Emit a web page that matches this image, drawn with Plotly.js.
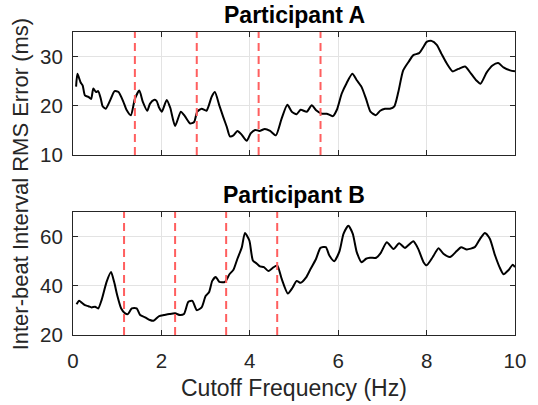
<!DOCTYPE html>
<html>
<head>
<meta charset="utf-8">
<script src="https://cdn.plot.ly/plotly-3.0.1.min.js"></script>
<style>html,body{margin:0;padding:0;background:#fff;}#chart{width:538px;height:405px;}</style>
</head>
<body>
<div id="chart"></div>
<script>
// Participant A: cutoff frequency (Hz) vs RMS error (ms)
const freqA = [0.07,0.1,0.17,0.22,0.27,0.35,0.41,0.46,0.52,0.57,0.63,0.67,0.74,0.84,0.94,1.03,1.14,1.21,1.31,1.40,1.50,1.58,1.68,1.74,1.83,1.89,1.95,2.01,2.12,2.2,2.31,2.44,2.53,2.65,2.74,2.81,2.91,3.02,3.14,3.21,3.31,3.4,3.48,3.55,3.63,3.72,3.81,3.93,4.02,4.12,4.22,4.34,4.46,4.59,4.72,4.85,4.95,5.06,5.15,5.29,5.4,5.5,5.63,5.74,5.88,5.97,6.08,6.19,6.32,6.42,6.53,6.63,6.73,6.85,6.95,7.06,7.17,7.27,7.36,7.47,7.59,7.7,7.83,7.93,8.0,8.11,8.23,8.34,8.45,8.59,8.72,8.87,9.0,9.12,9.22,9.36,9.49,9.62,9.74,9.89,10.0];
const errA  = [23.9,26.5,24.8,24.1,22.1,21.8,21.4,23.5,22.8,23.0,21.4,19.9,19.4,21.1,23.0,22.8,20.8,19.2,18.1,21.4,23.1,20.8,19.0,20.4,21.2,21.0,19.6,18.8,21.2,19.6,15.9,18.8,17.9,16.4,16.7,18.8,19.4,19.0,21.9,22.8,20.1,17.7,15.7,13.8,14.0,14.9,14.2,12.9,14.4,15.1,14.9,15.3,14.9,14.0,17.4,20.2,18.8,18.3,19.2,18.8,20.1,19.1,18.4,18.4,17.9,19.2,22.5,24.6,26.5,25.2,23.8,21.4,18.8,18.1,19.0,19.4,19.4,19.9,22.8,27.2,28.9,30.3,30.7,32.0,33.0,33.2,32.4,30.5,28.7,27.0,27.5,28.0,26.6,25.2,24.5,26.8,28.2,28.7,27.8,27.2,27.0];
// Participant B
const freqB = [0.08,0.14,0.2,0.27,0.35,0.42,0.5,0.57,0.65,0.76,0.86,0.93,1.0,1.09,1.18,1.24,1.33,1.44,1.52,1.63,1.74,1.82,1.95,2.06,2.18,2.31,2.42,2.51,2.61,2.7,2.8,2.91,3.0,3.08,3.15,3.23,3.31,3.44,3.54,3.63,3.72,3.82,3.89,3.99,4.07,4.16,4.23,4.32,4.42,4.52,4.62,4.72,4.86,4.97,5.06,5.15,5.27,5.36,5.5,5.6,5.72,5.8,5.91,6.03,6.12,6.23,6.33,6.42,6.53,6.63,6.72,6.86,6.96,7.1,7.25,7.38,7.51,7.7,7.81,7.93,8.0,8.14,8.27,8.38,8.53,8.68,8.78,8.91,9.09,9.21,9.32,9.43,9.55,9.65,9.74,9.85,9.95,10.0];
const errB  = [32.5,33.9,33.1,32.1,31.7,31.2,31.5,30.8,34.4,41.6,45.6,41.6,36.2,30.8,28.8,28.5,30.8,30.8,28.1,27.2,26.1,25.8,27.7,28.1,28.5,28.8,28.1,28.5,33.5,33.9,30.1,31.2,35.8,37.5,42.0,43.6,41.6,41.6,44.7,46.5,51.0,55.7,61.5,58.4,50.3,49.0,47.9,47.6,46.0,47.3,48.3,42.9,36.9,39.3,42.0,41.2,43.3,46.3,51.0,55.4,55.7,52.3,50.0,54.1,61.1,64.4,61.1,53.7,49.6,51.0,51.4,51.4,53.3,57.7,55.0,57.3,55.4,58.1,55.0,49.6,48.3,51.7,55.3,53.0,51.7,54.1,55.7,54.8,55.7,59.1,61.5,59.1,52.3,47.6,44.7,46.3,48.6,47.6];
// Red dashed cutoff markers
const cutA = [1.4, 2.8, 4.2, 5.6];
const cutB = [1.155, 2.31, 3.465, 4.62];
const xTicks = [0, 2, 4, 6, 8, 10];
const yTicksA = [10, 20, 30];
const yTicksB = [20, 40, 60];
const titles = ['Participant A', 'Participant B'];
const xLabel = 'Cutoff Frequency (Hz)';
const yLabel = 'Inter-beat Interval RMS Error (ms)';

const FONT = 'Liberation Sans, Arial, Helvetica, sans-serif';
const AX = '#262626';
const GRID = '#e3e3e3';
const lineStyle = {color: '#000', width: 2};

const traces = [
  {x: freqA, y: errA, type: 'scatter', mode: 'lines', line: Object.assign({shape: 'spline', smoothing: 0.6}, lineStyle), xaxis: 'x', yaxis: 'y', hoverinfo: 'skip'},
  {x: freqB, y: errB, type: 'scatter', mode: 'lines', line: Object.assign({shape: 'spline', smoothing: 0.6}, lineStyle), xaxis: 'x2', yaxis: 'y2', hoverinfo: 'skip'}
];

const shapes = [];
cutA.forEach(c => shapes.push({type: 'line', xref: 'x', yref: 'y domain', x0: c, x1: c, y0: 0, y1: 1, line: {color: '#ff5f5f', width: 2, dash: '8px,5px'}}));
cutB.forEach(c => shapes.push({type: 'line', xref: 'x2', yref: 'y2 domain', x0: c, x1: c, y0: 0, y1: 1, line: {color: '#ff5f5f', width: 2, dash: '8px,5px'}}));

function xax(showLabels, anchor) {
  return {
    range: [0, 10], tickvals: xTicks, showticklabels: showLabels, anchor: anchor,
    ticks: 'inside', ticklen: 5, tickwidth: 1, tickcolor: AX,
    showline: true, linecolor: AX, linewidth: 1, mirror: 'ticks',
    showgrid: true, gridcolor: GRID, gridwidth: 1, zeroline: false,
    tickfont: {family: FONT, size: 20.5, color: AX}, ticklabelstandoff: 7
  };
}
function yax(range, ticks, domain, anchor) {
  return {
    range: range, tickvals: ticks, domain: domain, anchor: anchor,
    ticks: 'inside', ticklen: 5, tickwidth: 1, tickcolor: AX,
    showline: true, linecolor: AX, linewidth: 1, mirror: 'ticks',
    showgrid: true, gridcolor: GRID, gridwidth: 1, zeroline: false,
    tickfont: {family: FONT, size: 20.5, color: AX}, ticklabelstandoff: 5
  };
}

const layout = {
  width: 538, height: 405,
  margin: {l: 73, r: 23, t: 32, b: 70},
  paper_bgcolor: '#fff', plot_bgcolor: '#fff',
  showlegend: false,
  xaxis: xax(false, 'y'),
  yaxis: yax([10, 35], yTicksA, [0.594, 1], 'x'),
  xaxis2: xax(true, 'y2'),
  yaxis2: yax([20, 70], yTicksB, [0, 0.406], 'x2'),
  shapes: shapes,
  annotations: [
    {text: '<b>' + titles[0] + '</b>', xref: 'paper', yref: 'paper', x: 0.5, y: 1, xanchor: 'center', yanchor: 'bottom', yshift: 2, showarrow: false, font: {family: FONT, size: 23, color: '#000'}},
    {text: '<b>' + titles[1] + '</b>', xref: 'paper', yref: 'paper', x: 0.5, y: 0.406, xanchor: 'center', yanchor: 'bottom', yshift: 2, showarrow: false, font: {family: FONT, size: 23, color: '#000'}},
    {text: xLabel, xref: 'paper', yref: 'paper', x: 0.5, y: -0.175, xanchor: 'center', yanchor: 'middle', showarrow: false, font: {family: FONT, size: 23, color: AX}},
    {text: yLabel, xref: 'paper', yref: 'paper', x: -0.118, y: 0.5, xanchor: 'center', yanchor: 'middle', textangle: -90, showarrow: false, font: {family: FONT, size: 22, color: AX}}
  ]
};

Plotly.newPlot('chart', traces, layout, {staticPlot: true, displayModeBar: false});
</script>
</body>
</html>
